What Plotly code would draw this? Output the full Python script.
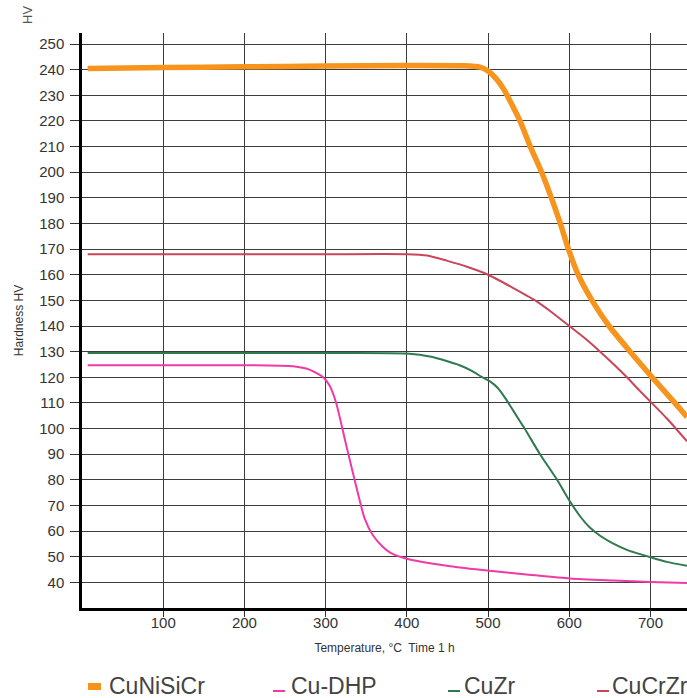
import plotly.graph_objects as go

# ---- data ----
cunisicr_x = [7, 100, 200, 300, 400, 470, 490, 500, 510, 520, 530, 540, 552, 566, 578, 589, 599, 611, 628, 649, 675, 702, 730, 745]
cunisicr_y = [240.5, 240.8, 241.1, 241.4, 241.6, 241.5, 241, 239.5, 236.5, 232, 226, 219.5, 210, 200, 190, 180, 170, 160, 150, 140, 130, 120, 110, 104.5]

cudhp_x = [7, 100, 200, 260, 280, 297, 305, 313, 325, 338, 348, 358, 370, 380, 400, 453, 502, 550, 601, 655, 700, 745]
cudhp_y = [124.7, 124.7, 124.7, 124.3, 123, 120, 116.7, 110, 94, 77, 65, 58.5, 54, 51.5, 49.2, 46.3, 44.5, 43, 41.5, 40.7, 40.1, 39.8]

cuzr_x = [7, 100, 200, 300, 400, 430, 465, 480, 492, 502, 512, 522, 532, 545, 564, 585, 601, 614, 625, 638, 655, 671, 700, 720, 745]
cuzr_y = [129.5, 129.5, 129.5, 129.5, 129.3, 128, 124.7, 122.5, 120.2, 118.5, 115.8, 111.5, 106.5, 100, 90, 80, 71.5, 65.5, 61.5, 58.2, 55, 52.7, 49.8, 48, 46.5]

cucrzr_x = [7, 100, 200, 300, 400, 425, 449, 475, 500, 530, 558, 580, 600, 620, 638, 655, 671, 686, 700, 720, 745]
cucrzr_y = [168, 168, 168, 168, 168, 167.5, 165.5, 163, 160, 155, 150, 145, 140, 135, 130, 125, 120, 115, 110.5, 104, 95]

series_names = ["CuNiSiCr", "Cu-DHP", "CuZr", "CuCrZr"]
x_ticks = [100, 200, 300, 400, 500, 600, 700]
y_ticks = list(range(40, 251, 10))

# ---- styling ----
colors = ["#f7941d", "#f03aa6", "#2f7a50", "#c9465a"]
widths = [5.5, 2, 2, 2]
FONT = "Liberation Sans, Arial, sans-serif"

fig = go.Figure()
for name, xs, ys, c, w in zip(series_names,
                              [cunisicr_x, cudhp_x, cuzr_x, cucrzr_x],
                              [cunisicr_y, cudhp_y, cuzr_y, cucrzr_y],
                              colors, widths):
    fig.add_trace(go.Scatter(x=xs, y=ys, mode="lines", name=name, showlegend=False,
                             line=dict(color=c, width=w, shape="spline", smoothing=0.6)))

grid_col = "#3c3c3c"
fig.update_xaxes(range=[0, 745], tickvals=x_ticks, showgrid=True, gridcolor=grid_col, gridwidth=1.4,
                 showline=True, linecolor="black", linewidth=2.5, ticks="outside", ticklen=6,
                 tickcolor="#333", tickwidth=1.4, zeroline=False, automargin=False,
                 ticklabelstandoff=-7,
                 tickfont=dict(family=FONT, size=15, color="#333"),
                 title=dict(text="Temperature, °C  Time 1 h", font=dict(family=FONT, size=12, color="#333"),
                            standoff=14))
fig.update_yaxes(range=[30, 254.3], tickvals=y_ticks, showgrid=True, gridcolor=grid_col, gridwidth=1.4,
                 showline=True, linecolor="black", linewidth=2.5, ticks="outside", ticklen=9,
                 tickcolor="#333", tickwidth=1.4, zeroline=False, automargin=False,
                 ticklabelstandoff=3,
                 tickfont=dict(family=FONT, size=15, color="#333"),
                 title=dict(text="Hardness HV", font=dict(family=FONT, size=12, color="#333"),
                            standoff=14))

# plot area in page px: left 82, right 687, top 33, bottom 608
def px(xp):
    return (xp - 82) / 605.0

def py(yp):
    return (608 - yp) / 575.0

fig.add_annotation(text="HV", xref="paper", yref="paper", x=px(28), y=py(15), showarrow=False,
                   xanchor="center", yanchor="middle",
                   textangle=-90, font=dict(family=FONT, size=13, color="#555"))

# custom legend (small keys as in the reference)
legend_text_x = [108, 290, 463, 611]
legend_key_x = [(88, 101), (273, 285), (448, 460), (597, 609)]
for i, (name, c) in enumerate(zip(series_names, colors)):
    fig.add_annotation(text=name, xref="paper", yref="paper", x=px(legend_text_x[i]), y=py(686),
                       xanchor="left", yanchor="middle", showarrow=False,
                       font=dict(family=FONT, size=23, color="#444"), borderpad=0)
    x0, x1 = legend_key_x[i]
    if i == 0:
        fig.add_shape(type="rect", xref="paper", yref="paper", x0=px(x0), x1=px(x1),
                      y0=py(690), y1=py(683), fillcolor=c, line=dict(width=0))
    else:
        fig.add_shape(type="line", xref="paper", yref="paper", x0=px(x0), x1=px(x1),
                      y0=py(691), y1=py(691), line=dict(color=c, width=2))

fig.update_layout(
    width=687, height=698,
    margin=dict(l=82, r=0, t=33, b=90),
    plot_bgcolor="white", paper_bgcolor="white",
    showlegend=False,
)

# remove the default 8px page margin so the figure fills the window exactly
fig.write_html("out.html", config={"displayModeBar": False},
               post_script="document.body.style.margin='0';document.body.style.overflow='hidden';")
